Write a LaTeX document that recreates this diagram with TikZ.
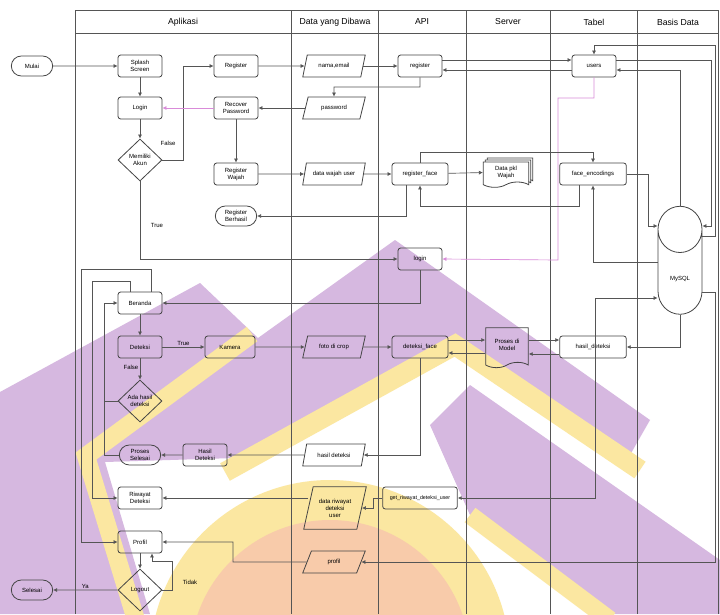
\documentclass[tikz,border=0pt]{standalone}
\usepackage{fontspec}
\setmainfont{Liberation Sans}
\usepackage{tikz}
\usetikzlibrary{positioning,calc,shapes.geometric,shapes.misc,shapes.symbols,shadows,arrows.meta}
\definecolor{Line}{HTML}{555555}
\definecolor{Border}{HTML}{444444}
\definecolor{PinkLine}{HTML}{D98BD9}
\definecolor{WmPurple}{HTML}{D6B8E0}
\definecolor{WmYellow}{HTML}{FBE7A1}
\definecolor{WmOrange}{HTML}{F8CBAA}
\newcommand{\diagfont}{\fontsize{4.5}{5.2}\selectfont}

\tikzset{
	procbox/.style={draw=Border, line width=0.6pt, rounded corners=2pt,
		minimum width=33pt, minimum height=16.5pt, inner sep=1pt,
		align=center, font=\diagfont},
	databox/.style={draw=Border, line width=0.6pt, trapezium,
		trapezium left angle=70, trapezium right angle=110,
		trapezium stretches=true, minimum width=47pt, minimum height=16.5pt,
		inner sep=1pt, align=center, font=\diagfont},
	endbox/.style={draw=Border, line width=0.6pt, rounded rectangle,
		minimum width=33pt, minimum height=15pt, inner sep=1pt,
		align=center, font=\diagfont},
	choice/.style={draw=Border, line width=0.6pt, diamond, aspect=1.05,
		minimum width=33pt, minimum height=31.5pt, inner sep=0pt,
		align=center, font=\diagfont},
	docbox/.style={draw=Border, line width=0.6pt, tape, tape bend top=none,
		tape bend height=4pt, minimum width=32pt, minimum height=30pt,
		inner sep=1pt, align=center, font=\diagfont},
	lanehead/.style={font=\fontsize{6.5}{7}\selectfont},
	lanerule/.style={draw=Line, line width=0.7pt},
	flowlabel/.style={font=\fontsize{4.5}{5}\selectfont, inner sep=1pt},
	flow/.style={draw=Line, line width=0.5pt, -{Latex[length=3pt,width=3pt]}},
	pinkflow/.style={flow, draw=PinkLine},
	twoway/.style={draw=Line, line width=0.5pt, {Latex[length=3pt,width=3pt]}-{Latex[length=3pt,width=3pt]}}
}

\begin{document}
\begin{tikzpicture}[x=0.75pt,y=-0.75pt]
	
	% ---------------------------------------------------------
	% PAGE AND WATERMARK
	% ---------------------------------------------------------
	
	\fill[white] (0,0) rectangle (720,614);
	\useasboundingbox (0,0) rectangle (720,614);
	\begin{scope}
		\clip (0,0) rectangle (720,614);
		\fill[WmPurple] (0,392) -- (200,283) -- (258,338) -- (395,240) -- (650,420)
		-- (630,455) -- (455,338) -- (235,458) -- (105,462) -- (150,614) -- (0,614) -- cycle;
		\fill[WmPurple] (430,425) -- (470,385) -- (720,560) -- (720,614) -- (605,614)
		-- (470,515) -- cycle;
		\fill[WmYellow] (330,660) circle[radius=180];
		\fill[WmOrange] (330,660) circle[radius=140];
		\draw[WmYellow, line width=13.5pt] (252,334) -- (86,456) -- (136,620);
		\draw[WmYellow, line width=15pt] (225,472) -- (455,345) -- (640,470);
		\draw[WmYellow, line width=13.5pt] (470,515) -- (610,620);
	\end{scope}
	
	% ---------------------------------------------------------
	% SWIMLANES
	% ---------------------------------------------------------
	
	\draw[lanerule] (75,614) -- (75,10) -- (718,10) -- (718,614);
	\draw[lanerule] (75,33) -- (718,33);
	\foreach \xl in {291,378,466,550,637}
	\draw[lanerule] (\xl,10) -- (\xl,614);
	
	\node[lanehead] (hApp) at (183,22) {Aplikasi};
	\node[lanehead] (hData) at (335,22) {Data yang Dibawa};
	\node[lanehead] (hApi) at (422,22) {API};
	\node[lanehead] (hServer) at (508,22) {Server};
	\node[lanehead] (hTabel) at (594,22) {Tabel};
	\node[lanehead] (hBasis) at (678,22) {Basis Data};
	
	% ---------------------------------------------------------
	% REGISTER AND LOGIN
	% ---------------------------------------------------------
	
	\node[endbox] (mulai) at (32,66) {Mulai};
	\node[procbox] (splash) at (140,66) {Splash\\Screen};
	\node[procbox] (login) at (140,108) {Login};
	\node[choice] (akun) at (140,160) {Memiliki\\Akun};
	\node[procbox] (register) at (236,66) {Register};
	\node[procbox] (recover) at (236,108) {Recover\\Password};
	\node[procbox] (regwajah) at (236,174) {Register\\Wajah};
	\node[endbox] (regdone) at (236,216) {Register\\Berhasil};
	\node[databox] (namaemail) at (334,66) {nama,email};
	\node[databox] (password) at (334,108) {password};
	\node[databox] (datawajah) at (334,174) {data wajah user};
	\node[procbox] (apireg) at (420,66) {register};
	\node[procbox, minimum width=42pt] (apiface) at (420,174) {register\_face};
	\node[procbox] (apilogin) at (420,259) {login};
	\node[docbox, fill=white, minimum width=34pt, minimum height=19pt,
	double copy shadow={shadow xshift=1.5pt, shadow yshift=1.5pt}]
	(pkl) at (506,172) {Data pkl\\Wajah};
	\node[procbox] (users) at (594,66) {users};
	\node[procbox, minimum width=50pt] (faceenc) at (593,174) {face\_encodings};
	\node[draw=Border, line width=0.6pt, cylinder, shape border rotate=90,
	aspect=1.6, minimum width=33pt, minimum height=81pt, font=\diagfont]
	(db) at (680,279) {MySQL};
	
	% ---------------------------------------------------------
	% DETEKSI, RIWAYAT, PROFIL
	% ---------------------------------------------------------
	
	\node[procbox] (beranda) at (140,303) {Beranda};
	\node[procbox] (deteksi) at (140,347) {Deteksi};
	\node[procbox, minimum width=37.5pt] (kamera) at (230,347) {Kamera};
	\node[databox] (fotocrop) at (334,347) {foto di crop};
	\node[procbox, minimum width=42pt] (apidet) at (420,347) {deteksi\_face};
	\node[docbox, minimum height=30pt] (model) at (507,345) {Proses di\\Model};
	\node[procbox, minimum width=50pt] (tabdet) at (593,347) {hasil\_deteksi};
	\node[choice] (adahasil) at (140,401) {Ada hasil\\deteksi};
	\node[endbox] (selesaiproses) at (140,455) {Proses\\Selesai};
	\node[procbox] (hasildet) at (205,455) {Hasil\\Deteksi};
	\node[databox] (hasildata) at (334,455) {hasil deteksi};
	\node[procbox] (riwayat) at (140,498) {Riwayat\\Deteksi};
	\node[databox, minimum height=32pt] (riwayatdata) at (335,508) {data riwayat\\deteksi\\user};
	\node[procbox, minimum width=56pt, font=\fontsize{4}{5}\selectfont]
	(apiriwayat) at (420,498) {get\_riwayat\_deteksi\_user};
	\node[procbox] (profil) at (140,542) {Profil};
	\node[databox] (profildata) at (334,562) {profil};
	\node[choice] (logout) at (140,590) {Logout};
	\node[endbox] (selesai) at (32,590) {Selesai};
	
	% ---------------------------------------------------------
	% ARROWS
	% ---------------------------------------------------------
	
	\draw[flow] (mulai) -- (splash);
	\draw[flow] (splash) -- (login);
	\draw[flow] (login) -- (akun);
	\draw[flow] (akun.east) -- (183,160) |- (register.west);
	\node[flowlabel] (lblFalseA) at (168,143) {False};
	\draw[flow] (akun.south) |- (apilogin.west);
	\node[flowlabel] (lblTrueA) at (157,225) {True};
	\draw[pinkflow] (recover.west) -- (login.east);
	\draw[flow] (register) -- (namaemail);
	\draw[flow] (namaemail) -- (apireg);
	\draw[flow] ([yshift=4.5pt]apireg.east) -- ([yshift=4.5pt]users.west);
	\draw[flow] ([yshift=-3pt]users.west) -- ([yshift=-3pt]apireg.east);
	\draw[flow] ([yshift=4.5pt]users.east) -| (711,226) -- (db.east |- 0,226);
	\draw[flow] (db.north) |- ([yshift=-3pt]users.east);
	\draw[flow] (db.east |- 0,236) -- (715,236) |- (594,45) -- (users.north);
	\draw[pinkflow] (users.south) -- (594,98) -| (558,260) -- (apilogin.east);
	\draw[flow] (apireg.south) |- (334,87) -- (password.north);
	\draw[flow] (password) -- (recover);
	\draw[flow] (recover) -- (regwajah);
	\draw[flow] (regwajah) -- (datawajah);
	\draw[flow] (datawajah) -- (apiface);
	\draw[flow] (apiface) -- (pkl);
	\draw[flow] (apiface.north) -- ++(0,-10) -| (faceenc.north);
	\draw[flow] ([xshift=-10pt]faceenc.south) -- ++(0,21) -| (apiface.south);
	\draw[flow] ([xshift=-10pt]apiface.south) |- (regdone.east);
	\draw[flow] (faceenc.east) -| (648,226) -- (db.west |- 0,226);
	\draw[flow] (db.west |- 0,262) -| (faceenc.south);
	
	\draw[flow] (apilogin.south) |- (beranda.east);
	\draw[flow] (beranda) -- (deteksi);
	\draw[flow] (deteksi) -- node[flowlabel, above] (lblTrueB) {True} (kamera);
	\draw[flow] (kamera) -- (fotocrop);
	\draw[flow] (fotocrop) -- (apidet);
	\draw[flow] (apidet.east |- 0,340) -- (model.west |- 0,340);
	\draw[flow] (model.west |- 0,353) -- (apidet.east |- 0,353);
	\draw[flow] (model.east |- 0,340) -- (tabdet.west |- 0,340);
	\draw[flow] (tabdet.west |- 0,354) -- (model.east |- 0,354);
	\draw[flow] (db.south) |- (tabdet.east);
	\draw[flow] (apidet.south) |- (hasildata.east);
	\draw[flow] (hasildata) -- (hasildet);
	\draw[flow] (hasildet) -- (selesaiproses);
	\draw[flow] (selesaiproses.west) -- (104,455) |- (beranda.west);
	\draw[draw=Line, line width=0.5pt] (adahasil.west) -- (104,401);
	\draw[flow] (deteksi) -- node[flowlabel, left, pos=0.4] (lblFalseB) {False} (adahasil);
	\draw[flow] ([xshift=-7.5pt]beranda.north) -- ++(0,-10) -| (92,498) -- (riwayat.west);
	\draw[flow] ([xshift=8.25pt]beranda.north) -- ++(0,-22) -| (81,542) -- (profil.west);
	\draw[flow] (riwayatdata.west |- riwayat.east) -- (riwayat.east);
	\draw[flow] (apiriwayat.west) -- (373,498) |- (riwayatdata.east);
	\draw[twoway] (apiriwayat.east) -- (595,498) |- (db.west |- 0,298);
	\draw[flow] (profildata.west) -- (233,562) |- (profil.east);
	\draw[flow] (db.east |- 0,292) -- (715,292) |- (profildata.east);
	\draw[flow] (profil) -- (logout);
	\draw[flow] (logout.east) -- (172,590) -- (172,561) -| ([xshift=9pt]profil.south);
	\node[flowlabel] (lblTidak) at (190,582) {Tidak};
	\draw[flow] (logout) -- node[flowlabel, above] (lblYa) {Ya} (selesai);
	
\end{tikzpicture}
\end{document}
